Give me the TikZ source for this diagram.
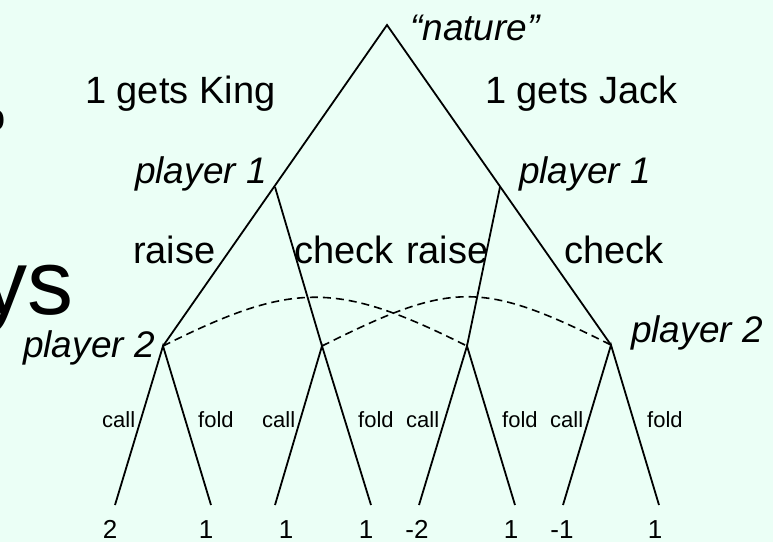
\documentclass[tikz,border=0pt]{standalone}
\usepackage{fontspec}
\setmainfont{Liberation Sans}
\definecolor{bg}{RGB}{235,255,246}
\begin{document}
\begin{tikzpicture}[x=1pt,y=-1pt,
  edge/.style={line width=1.8pt, line join=miter},
  info/.style={line width=1.6pt, dash pattern=on 8pt off 5pt},
  big/.style={inner sep=0pt, anchor=base west, font=\fontsize{38}{45}\selectfont},
  bigit/.style={inner sep=0pt, anchor=base west, font=\fontsize{37}{44}\selectfont\itshape},
  huge/.style={inner sep=0pt, anchor=base west, font=\fontsize{92}{100}\selectfont},
  small/.style={inner sep=0pt, anchor=base west, font=\fontsize{22}{26}\selectfont},
  pay/.style={inner sep=0pt, anchor=base, font=\fontsize{26}{31}\selectfont}]
\fill[bg] (0,0) rectangle (773,542);
\useasboundingbox (0,0) rectangle (773,542);
% partially hidden slide text at left edge
\node[big] (frag1) at (-16,130) {o};
\node[huge] (frag2) at (-19,314) {ys};
% tree nodes
\coordinate (r) at (387,25);
\coordinate (k) at (275,187);
\coordinate (j) at (500,187);
\coordinate (kr) at (163,346);
\coordinate (kc) at (322,346);
\coordinate (jr) at (467,346);
\coordinate (jc) at (611,345);
\coordinate (l1) at (115,505);
\coordinate (l2) at (211,505);
\coordinate (l3) at (275,505);
\coordinate (l4) at (371,505);
\coordinate (l5) at (419,505);
\coordinate (l6) at (515,505);
\coordinate (l7) at (563,505);
\coordinate (l8) at (659,505);
% edges
\draw[edge] (kr) -- (r) -- (jc);
\draw[edge] (k) -- (kc);
\draw[edge] (j) -- (jr);
\draw[edge] (l1) -- (kr) -- (l2);
\draw[edge] (l3) -- (kc) -- (l4);
\draw[edge] (l5) -- (jr) -- (l6);
\draw[edge] (l7) -- (jc) -- (l8);
% information sets
\draw[info] (kr) .. controls (293,281) and (337,281) .. (jr);
\draw[info] (kc) .. controls (452,281) and (481,280) .. (jc);
% labels
\node[bigit] (nat) at (410,40) {“nature”};
\node[big] (gk) at (85,103) {1 gets King};
\node[big] (gj) at (485,103) {1 gets Jack};
\node[bigit] (p1k) at (135,183) {player 1};
\node[bigit] (p1j) at (519,183) {player 1};
\node[big] (ra1) at (133,263) {raise};
\node[big] (ch1) at (294,263) {check};
\node[big] (ra2) at (406,263) {raise};
\node[big] (ch2) at (564,263) {check};
\node[bigit] (p2k) at (23,357) {player 2};
\node[bigit] (p2j) at (631,342) {player 2};
\node[small] (c1) at (102,427) {call};
\node[small] (f1) at (198,427) {fold};
\node[small] (c2) at (262,427) {call};
\node[small] (f2) at (358,427) {fold};
\node[small] (c3) at (406,427) {call};
\node[small] (f3) at (502,427) {fold};
\node[small] (c4) at (550,427) {call};
\node[small] (f4) at (647,427) {fold};
\node[pay] (v1) at (110,538) {2};
\node[pay] (v2) at (206,538) {1};
\node[pay] (v3) at (286,538) {1};
\node[pay] (v4) at (366,538) {1};
\node[pay] (v5) at (417,538) {-2};
\node[pay] (v6) at (511,538) {1};
\node[pay] (v7) at (562,538) {-1};
\node[pay] (v8) at (655,538) {1};
\end{tikzpicture}
\end{document}
